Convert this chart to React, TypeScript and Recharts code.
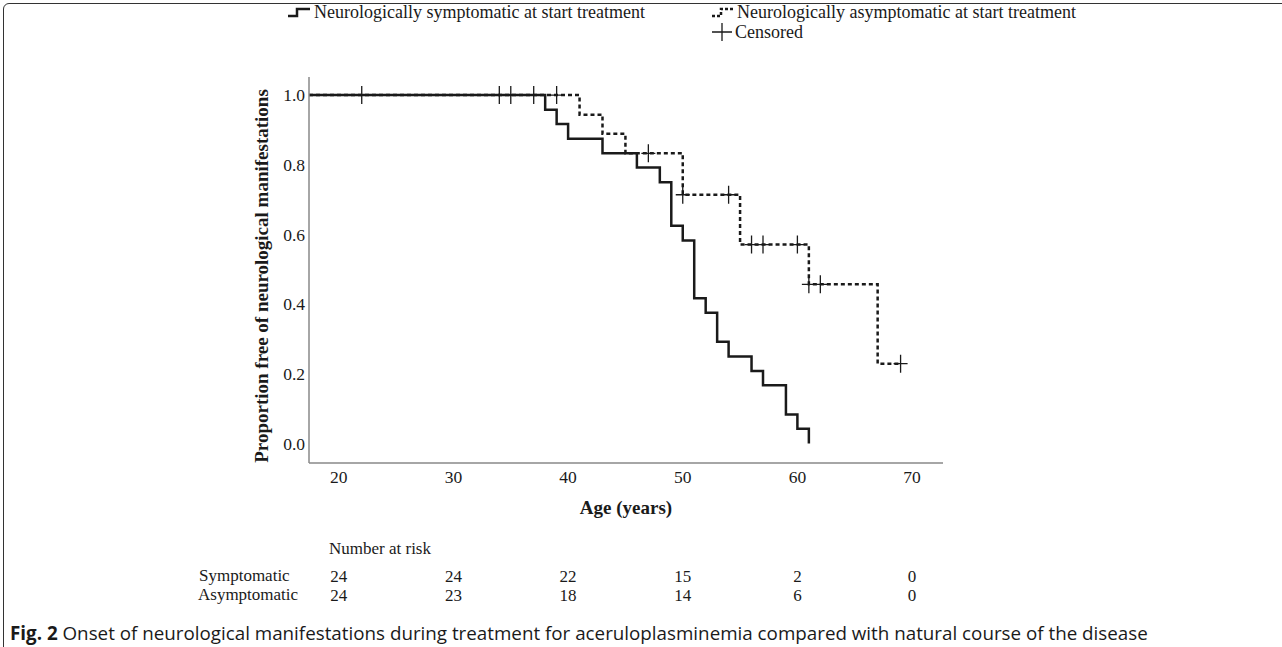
import React from 'react';
import { ComposedChart, Line, Scatter, XAxis, YAxis } from 'recharts';

// x axis (age) and y axis (proportion) ticks
const ageTicks = [20, 30, 40, 50, 60, 70];
const survTicks = [0, 0.2, 0.4, 0.6, 0.8, 1.0];

// Kaplan-Meier steps, neurologically symptomatic at start treatment
const symptomaticAge = [17.4, 38, 39, 40, 43, 46, 48, 49, 50, 51, 52, 53, 54, 56, 57, 59, 60, 61];
const symptomaticSurv = [1, 0.958, 0.917, 0.875, 0.833, 0.792, 0.75, 0.625, 0.583, 0.417, 0.375, 0.292, 0.25, 0.208, 0.167, 0.083, 0.042, 0];

// Kaplan-Meier steps, neurologically asymptomatic at start treatment
const asymptomaticAge = [17.4, 41, 43, 45, 50, 55, 61, 67, 69];
const asymptomaticSurv = [1, 0.944, 0.889, 0.833, 0.714, 0.571, 0.457, 0.229, 0.229];

// censored observations
const censoredAge = [22, 34, 35, 37, 39, 47, 50, 54, 56, 57, 60, 61, 62, 69];
const censoredSurv = [1, 1, 1, 1, 1, 0.833, 0.714, 0.714, 0.571, 0.571, 0.571, 0.457, 0.457, 0.229];

// number at risk at each age tick
const riskSymptomatic = [24, 24, 22, 15, 2, 0];
const riskAsymptomatic = [24, 23, 18, 14, 6, 0];

const symptomatic = symptomaticAge.map((age, i) => ({ age, surv: symptomaticSurv[i] }));
const asymptomatic = asymptomaticAge.map((age, i) => ({ age, surv: asymptomaticSurv[i] }));
const censored = censoredAge.map((age, i) => ({ age, surv: censoredSurv[i] }));

const ink = '#1a1a1a';
const serif = '"Liberation Serif", "Times New Roman", serif';
const tickStyle = { fontSize: 17.5, fill: ink, fontFamily: serif };
const riskStyle = { fontSize: 17, fill: ink, fontFamily: serif };

const CensorMark = (props: any) => {
  const { cx, cy } = props;
  if (cx == null || cy == null) return null;
  return (
    <path
      d={`M${cx - 7},${cy} H${cx + 7} M${cx},${cy - 9} V${cy + 9}`}
      stroke={ink}
      strokeWidth={1.3}
      fill="none"
    />
  );
};

const riskLabel = (rows: number[]) => (v: number) => {
  const i = ageTicks.indexOf(v);
  return i >= 0 ? String(rows[i]) : '';
};

const legendRow = { position: 'absolute' as const, fontSize: 18, whiteSpace: 'nowrap' as const, display: 'flex', alignItems: 'center', lineHeight: '20px' };
const tableText = { position: 'absolute' as const, fontSize: 17, lineHeight: '18px', whiteSpace: 'nowrap' as const, transform: 'translateY(-50%)' };

export default function App() {
  return (
    <div
      style={{
        position: 'absolute',
        left: 0,
        top: 0,
        width: 1282,
        height: 647,
        overflow: 'hidden',
        background: '#fff',
        fontFamily: serif,
        color: ink,
      }}
    >
      {/* figure frame */}
      <div
        style={{
          position: 'absolute',
          left: 3,
          top: 3,
          width: 1320,
          height: 700,
          border: '1.5px solid #333',
          borderRadius: 6,
        }}
      />

      {/* legend */}
      <div style={{ ...legendRow, left: 288, top: 2 }}>
        <svg width={22} height={12} style={{ marginRight: 4 }}>
          <path d="M0,10 H9 V3 H22" stroke={ink} strokeWidth={2.5} fill="none" />
        </svg>
        Neurologically symptomatic at start treatment
      </div>
      <div style={{ ...legendRow, left: 712, top: 2 }}>
        <svg width={22} height={12} style={{ marginRight: 3 }}>
          <path d="M0,10 H9 V3 H22" stroke={ink} strokeWidth={2.5} strokeDasharray="3 2" fill="none" />
        </svg>
        Neurologically asymptomatic at start treatment
      </div>
      <div style={{ ...legendRow, left: 712, top: 22 }}>
        <svg width={20} height={18} style={{ marginRight: 3 }}>
          <path d="M0,9 H20 M10,0 V18" stroke={ink} strokeWidth={1.3} fill="none" />
        </svg>
        Censored
      </div>

      {/* y axis title */}
      <div
        style={{
          position: 'absolute',
          left: 262,
          top: 276,
          transform: 'translate(-50%, -50%) rotate(-90deg)',
          fontSize: 19,
          fontWeight: 'bold',
          whiteSpace: 'nowrap',
        }}
      >
        Proportion free of neurological manifestations
      </div>

      <div style={{ position: 'absolute', left: 0, top: 0 }}>
        <ComposedChart
          width={1282}
          height={620}
          margin={{ top: 77, right: 339, left: 249, bottom: 0 }}
        >
          <XAxis
            dataKey="age"
            type="number"
            domain={[17.4, 72.7]}
            ticks={ageTicks}
            allowDataOverflow
            height={100}
            tickLine={false}
            tickSize={0}
            tickMargin={8}
            axisLine={{ stroke: '#888', strokeWidth: 1.5 }}
            tick={tickStyle}
          />
          <XAxis
            xAxisId="r1"
            dataKey="age"
            type="number"
            domain={[17.4, 72.7]}
            ticks={ageTicks}
            allowDataOverflow
            height={19.5}
            tickLine={false}
            tickSize={0}
            tickMargin={6.5}
            axisLine={false}
            tick={riskStyle}
            tickFormatter={riskLabel(riskSymptomatic)}
          />
          <XAxis
            xAxisId="r2"
            dataKey="age"
            type="number"
            domain={[17.4, 72.7]}
            ticks={ageTicks}
            allowDataOverflow
            height={37.5}
            tickLine={false}
            tickSize={0}
            tickMargin={6.5}
            axisLine={false}
            tick={riskStyle}
            tickFormatter={riskLabel(riskAsymptomatic)}
          />
          <YAxis
            type="number"
            domain={[-0.056, 1.052]}
            ticks={survTicks}
            allowDataOverflow
            width={60}
            tickLine={false}
            tickSize={0}
            tickMargin={4}
            axisLine={{ stroke: '#888', strokeWidth: 1.5 }}
            tick={tickStyle}
            tickFormatter={(v: number) => v.toFixed(1)}
          />
          <Line
            data={asymptomatic}
            dataKey="surv"
            type="stepAfter"
            stroke={ink}
            strokeWidth={2.5}
            strokeDasharray="4 3"
            dot={false}
            activeDot={false}
            isAnimationActive={false}
          />
          <Line
            data={symptomatic}
            dataKey="surv"
            type="stepAfter"
            stroke={ink}
            strokeWidth={2.5}
            dot={false}
            activeDot={false}
            isAnimationActive={false}
          />
          <Scatter
            data={censored}
            dataKey="surv"
            shape={CensorMark}
            isAnimationActive={false}
          />
        </ComposedChart>
      </div>

      {/* x axis title */}
      <div style={{ position: 'absolute', left: 626, top: 508, transform: 'translate(-50%, -50%)', fontSize: 19, fontWeight: 'bold', whiteSpace: 'nowrap' }}>
        Age (years)
      </div>

      {/* number at risk table labels */}
      <div style={{ ...tableText, left: 329, top: 549 }}>Number at risk</div>
      <div style={{ ...tableText, left: 199, top: 575.5 }}>Symptomatic</div>
      <div style={{ ...tableText, left: 198, top: 595 }}>Asymptomatic</div>

      {/* caption */}
      <div
        style={{
          position: 'absolute',
          left: 10,
          top: 633,
          transform: 'translateY(-50%)',
          fontFamily: '"Open Sans", "Noto Sans", sans-serif',
          fontSize: 18.8,
          lineHeight: '22px',
          whiteSpace: 'nowrap',
        }}
      >
        <b>Fig. 2</b> Onset of neurological manifestations during treatment for aceruloplasminemia compared with natural course of the disease
      </div>
    </div>
  );
}
